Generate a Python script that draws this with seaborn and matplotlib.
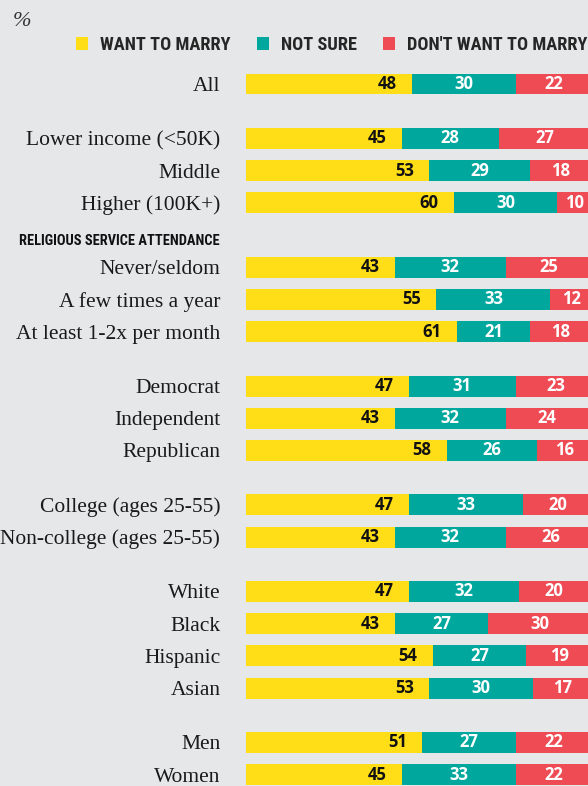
import matplotlib as mpl

mpl.use("Agg")
import matplotlib.pyplot as plt
import seaborn as sns
import pandas as pd
from matplotlib.patches import Patch

# data (%)
labels = [
    "All",
    "Lower income (<50K)", "Middle", "Higher (100K+)",
    "Never/seldom", "A few times a year", "At least 1-2x per month",
    "Democrat", "Independent", "Republican",
    "College (ages 25-55)", "Non-college (ages 25-55)",
    "White", "Black", "Hispanic", "Asian",
    "Men", "Women",
]
want = [48, 45, 53, 60, 43, 55, 61, 47, 43, 58, 47, 43, 47, 43, 54, 53, 51, 45]
not_sure = [30, 28, 29, 30, 32, 33, 21, 31, 32, 26, 33, 32, 32, 27, 27, 30, 27, 33]
dont_want = [22, 27, 18, 10, 25, 12, 18, 23, 24, 16, 20, 26, 20, 30, 19, 17, 22, 22]
group_sizes = [1, 3, 3, 3, 2, 4, 2]
group_headers = {2: "RELIGIOUS SERVICE ATTENDANCE"}
series_names = ["WANT TO MARRY", "NOT SURE", "DON'T WANT TO MARRY"]

YELLOW, TEAL, RED = "#ffdd17", "#00a79d", "#ef4b55"
BG = "#e6e7e9"

# row positions (one unit per row, extra space between groups)
pos, header_pos = [], {}
y = 0.0
for g, n in enumerate(group_sizes):
    if g > 0:
        y += 1.0 + (1.0 if g in group_headers else 0.69)
    if g in group_headers:
        header_pos[g] = y - 0.8
    for i in range(n):
        pos.append(y)
        y += 1.0 if i < n - 1 else 0.0

df = pd.DataFrame({"label": labels, "pos": pos, "want": want,
                   "not_sure": not_sure, "dont_want": dont_want})
df["c1"] = df["want"]
df["c2"] = df["want"] + df["not_sure"]
df["c3"] = df["c2"] + df["dont_want"]

sns.set_style("white")
plt.rcParams["figure.facecolor"] = BG
plt.rcParams["axes.facecolor"] = BG

fig = plt.figure(figsize=(5.88, 7.86), dpi=100)
ax = fig.add_axes([246 / 588, 0, 1 - 246 / 588, 1])

for col, c in [("c3", RED), ("c2", TEAL), ("c1", YELLOW)]:
    sns.barplot(data=df, x=col, y="pos", orient="h", native_scale=True,
                color=c, width=0.65, errorbar=None, linewidth=0,
                saturation=1, ax=ax)

num_font = dict(family=["Open Sans", "DejaVu Sans"], weight="bold", size=12)
for _, r in df.iterrows():
    ax.text(r.c1 - 4.4, r.pos, f"{r.want}", ha="right", va="center",
            color="#111111", **num_font)
    ax.text(r.c1 + r.not_sure / 2, r.pos, f"{r.not_sure}", ha="center",
            va="center", color="white", **num_font)
    ax.text(r.c2 + r.dont_want / 2, r.pos, f"{r.dont_want}", ha="center",
            va="center", color="white", **num_font)

ax.set_xlim(0, (588 - 246) / 3.46)
ax.set_ylim(pos[0] + (786 - 84) / 32.2, pos[0] - 84 / 32.2)
ax.set_xticks([])
ax.set_yticks(df["pos"])
ax.set_yticklabels(df["label"], family=["Liberation Serif", "DejaVu Serif"],
                   size=15.5, color="#1a1a1a")
ax.tick_params(axis="y", length=0, pad=18.5)
ax.set(xlabel="", ylabel="")
sns.despine(ax=ax, left=True, bottom=True)

cond = dict(family=["Roboto Condensed", "Roboto", "DejaVu Sans"], weight="bold",
            stretch="condensed")
for g, yp in header_pos.items():
    ax.annotate(group_headers[g], xy=(0, yp), xycoords=("axes fraction", "data"),
                xytext=(-26, 0), textcoords="offset pixels", ha="right",
                va="center", size=10.4, color="#111111", **cond)

fig.text(13 / 588, 1 - 21 / 786, "%", ha="left", va="center", size=16,
         style="italic", color="#333333", family=["Liberation Serif", "DejaVu Serif"])

handles = [Patch(facecolor=c, edgecolor="none") for c in (YELLOW, TEAL, RED)]
ax.legend(handles, series_names, loc="upper left", ncol=3, frameon=False,
          bbox_to_anchor=(76 / 588, 1 - 36 / 786), bbox_transform=fig.transFigure,
          borderpad=0, borderaxespad=0, handlelength=0.66, handleheight=0.66,
          handletextpad=0.66, columnspacing=1.42,
          prop=dict(size=13.2, **cond))

fig.savefig("out.png", dpi=100, facecolor=BG)
